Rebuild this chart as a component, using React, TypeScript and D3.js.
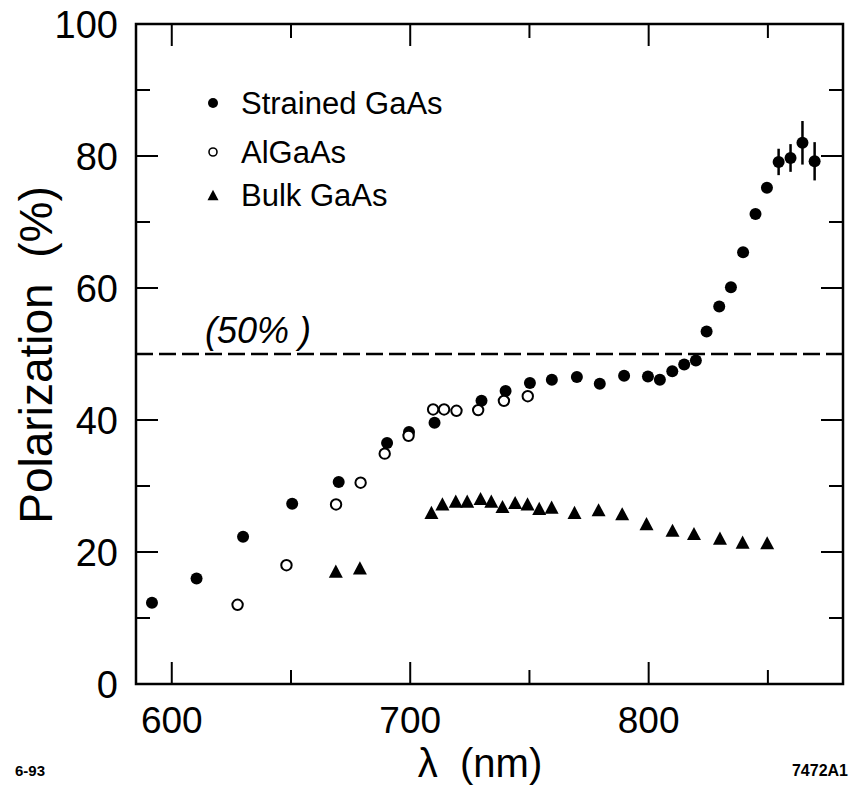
import React from 'react';
import * as d3 from 'd3';

// ---------- data ----------
const strainedWl = [591.7, 610.4, 629.9, 650.5, 670.0, 690.3, 699.5, 710.2, 729.9, 740.0, 750.2, 759.4, 769.9, 779.5, 789.7, 799.7, 804.7, 809.9, 814.9, 819.8, 824.3, 829.6, 834.5, 839.6, 844.8, 849.6, 854.5, 859.5, 864.5, 869.6];
const strainedPol = [12.3, 16.0, 22.3, 27.3, 30.6, 36.5, 38.2, 39.6, 42.9, 44.4, 45.6, 46.1, 46.5, 45.5, 46.7, 46.6, 46.1, 47.4, 48.4, 49.0, 53.4, 57.2, 60.1, 65.4, 71.2, 75.2, 79.1, 79.7, 82.0, 79.2];
const strainedErr = [0, 0, 0, 0, 0, 0, 0, 0, 0, 0, 0, 0, 0, 0, 0, 0, 0, 0, 0, 0, 0, 0, 0, 0, 0, 0, 2.0, 2.1, 3.3, 2.9];

const alWl = [627.6, 648.1, 668.9, 679.2, 689.3, 699.3, 709.6, 714.2, 719.4, 728.5, 739.3, 749.3];
const alPol = [12.0, 18.0, 27.2, 30.5, 34.9, 37.6, 41.6, 41.6, 41.4, 41.5, 42.9, 43.6];

const bulkWl = [668.8, 678.9, 708.9, 713.5, 719.1, 723.9, 729.5, 734.0, 738.7, 744.0, 749.2, 754.1, 759.3, 768.9, 779.0, 788.9, 799.1, 810.0, 819.0, 829.9, 839.4, 849.7];
const bulkPol = [17.1, 17.6, 26.0, 27.3, 27.7, 27.7, 28.1, 27.7, 26.9, 27.5, 27.3, 26.6, 26.8, 26.0, 26.4, 25.8, 24.3, 23.3, 22.8, 22.1, 21.5, 21.4];

const xMajorTicks = [600, 700, 800];
const xMinorTicks = [650, 750, 850];
const yMajorTicks = [0, 20, 40, 60, 80, 100];
const yMinorTicks = [10, 30, 50, 70, 90];
const referenceLevel = 50;
const referenceLabel = '(50% )';
const legendLabels = ['Strained GaAs', 'AlGaAs', 'Bulk GaAs'];
const xTitle = 'λ  (nm)';
const yTitle = 'Polarization  (%)';
const leftNote = '6-93';
const rightNote = '7472A1';

// ---------- layout ----------
const W = 849;
const H = 793;
const L = 136, R = 843, T = 24, B = 684;
const FONT = '"Liberation Sans", Arial, Helvetica, sans-serif';
const PRE = { whiteSpace: 'pre' as const };

const tri = (s: number) => `M0,${-s * 0.47}L${s * 0.5},${s * 0.47}L${-s * 0.5},${s * 0.47}Z`;

export default function App() {
  const x = d3.scaleLinear().domain([585, 881.5]).range([L, R]);
  const y = d3.scaleLinear().domain([0, 100]).range([B, T]);

  const strained = strainedWl.map((w, i) => ({ w, p: strainedPol[i], e: strainedErr[i] }));
  const al = alWl.map((w, i) => ({ w, p: alPol[i] }));
  const bulk = bulkWl.map((w, i) => ({ w, p: bulkPol[i] }));

  const majorLen = 22, minorLen = 14;
  const legendY = [103, 152, 195];

  return (
    <svg width={W} height={H} style={{ position: 'absolute', left: 0, top: 0, background: '#fff' }} fontFamily={FONT}>
      <rect x={0} y={0} width={W} height={H} fill="#fff" />
      {/* ticks */}
      <g stroke="#000" strokeWidth={2}>
        {xMajorTicks.map((t) => (
          <g key={'xm' + t}>
            <line x1={x(t)} x2={x(t)} y1={B} y2={B - majorLen} />
            <line x1={x(t)} x2={x(t)} y1={T} y2={T + majorLen} />
          </g>
        ))}
        {xMinorTicks.map((t) => (
          <g key={'xn' + t}>
            <line x1={x(t)} x2={x(t)} y1={B} y2={B - minorLen} />
            <line x1={x(t)} x2={x(t)} y1={T} y2={T + minorLen} />
          </g>
        ))}
        {yMajorTicks.map((t) => (
          <g key={'ym' + t}>
            <line x1={L} x2={L + majorLen} y1={y(t)} y2={y(t)} />
            <line x1={R} x2={R - majorLen} y1={y(t)} y2={y(t)} />
          </g>
        ))}
        {yMinorTicks.map((t) => (
          <g key={'yn' + t}>
            <line x1={L} x2={L + minorLen} y1={y(t)} y2={y(t)} />
            <line x1={R} x2={R - minorLen} y1={y(t)} y2={y(t)} />
          </g>
        ))}
      </g>
      {/* frame */}
      <rect x={L} y={T} width={R - L} height={B - T} fill="none" stroke="#000" strokeWidth={2.5} />

      {/* tick labels */}
      {xMajorTicks.map((t) => (
        <text key={'xl' + t} x={x(t)} y={733} textAnchor="middle" fontSize={37}>{t}</text>
      ))}
      {yMajorTicks.map((t) => (
        <text key={'yl' + t} x={118} y={y(t)} dy="0.36em" textAnchor="end" fontSize={38}>{t}</text>
      ))}

      {/* axis titles */}
      <text x={480} y={777} textAnchor="middle" fontSize={40} style={PRE}>{xTitle}</text>
      <text transform={`translate(52,${355}) rotate(-90)`} textAnchor="middle" fontSize={46} style={PRE}>{yTitle}</text>
      <text x={15} y={776} fontSize={15} fontWeight="bold">{leftNote}</text>
      <text x={848} y={776} textAnchor="end" fontSize={16} fontWeight="bold">{rightNote}</text>

      {/* 50% reference */}
      <line x1={L} x2={R} y1={y(referenceLevel)} y2={y(referenceLevel)} stroke="#000" strokeWidth={2.5} strokeDasharray="17 6" />
      <text x={205} y={343} fontSize={36} fontStyle="italic" style={PRE}>{referenceLabel}</text>

      {/* error bars */}
      <g stroke="#000" strokeWidth={2.5}>
        {strained.filter((d) => d.e > 0).map((d, i) => (
          <line key={'e' + i} x1={x(d.w)} x2={x(d.w)} y1={y(d.p - d.e)} y2={y(d.p + d.e)} />
        ))}
      </g>

      {/* Bulk GaAs */}
      {bulk.map((d, i) => (
        <path key={'b' + i} d={tri(14)} transform={`translate(${x(d.w)},${y(d.p)})`} fill="#000" />
      ))}
      {/* Strained GaAs */}
      {strained.map((d, i) => (
        <circle key={'s' + i} cx={x(d.w)} cy={y(d.p)} r={6} fill="#000" />
      ))}
      {/* AlGaAs */}
      {al.map((d, i) => (
        <circle key={'a' + i} cx={x(d.w)} cy={y(d.p)} r={5.2} fill="#fff" stroke="#000" strokeWidth={2} />
      ))}

      {/* legend */}
      <circle cx={213} cy={legendY[0]} r={5} fill="#000" />
      <circle cx={213} cy={legendY[1]} r={4} fill="#fff" stroke="#000" strokeWidth={1.6} />
      <path d={tri(11)} transform={`translate(213,${legendY[2]})`} fill="#000" />
      {legendLabels.map((l, i) => (
        <text key={l} x={241} y={legendY[i]} dy="0.36em" fontSize={31}>{l}</text>
      ))}
    </svg>
  );
}
